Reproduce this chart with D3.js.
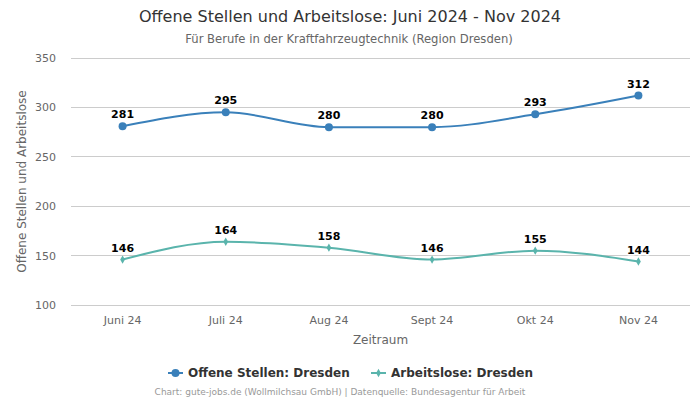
<!DOCTYPE html>
<html><head><meta charset="utf-8">
<script src="https://cdn.jsdelivr.net/npm/d3@7"></script>
<style>body{margin:0;background:#fff;font-family:"DejaVu Sans",sans-serif}</style>
</head><body><svg id="c" width="700" height="400"></svg>
<script>
const categories = ["Juni 24","Juli 24","Aug 24","Sept 24","Okt 24","Nov 24"];
const offeneStellen = [281,295,280,280,293,312];
const arbeitslose = [146,164,158,146,155,144];
const yTicks = [100,150,200,250,300,350];
const seriesNames = ["Offene Stellen: Dresden","Arbeitslose: Dresden"];
const colors = ["#3a80ba","#5ab4ac"];

const svg = d3.select("#c");
const m = {l:71, r:690, t:58, b:305};
const x = d3.scaleBand().domain(categories).range([m.l,m.r]);
const y = d3.scaleLinear().domain([100,350]).range([m.b,m.t]);

svg.append("text").attr("x",350).attr("y",22).attr("text-anchor","middle")
  .attr("font-size",16).attr("fill","#333").text("Offene Stellen und Arbeitslose: Juni 2024 - Nov 2024");
svg.append("text").attr("x",349).attr("y",43).attr("text-anchor","middle")
  .attr("font-size",11.6).attr("fill","#666").text("Für Berufe in der Kraftfahrzeugtechnik (Region Dresden)");

const grid = svg.append("g");
yTicks.forEach(t=>{
  grid.append("line").attr("x1",m.l).attr("x2",m.r).attr("y1",y(t)).attr("y2",y(t))
    .attr("stroke","#cccccc").attr("stroke-width",1).attr("shape-rendering","crispEdges");
  grid.append("text").attr("x",56).attr("y",y(t)+4).attr("text-anchor","end")
    .attr("font-size",11).attr("fill","#666").text(t);
});
categories.forEach(c=>{
  svg.append("text").attr("x",x(c)+x.bandwidth()/2).attr("y",324).attr("text-anchor","middle")
    .attr("font-size",11).attr("fill","#666").text(c);
});
svg.append("text").attr("x",(m.l+m.r)/2).attr("y",344).attr("text-anchor","middle")
  .attr("font-size",12).attr("fill","#666").text("Zeitraum");
svg.append("text").attr("transform",`translate(26,${(m.t+m.b)/2}) rotate(-90)`).attr("text-anchor","middle")
  .attr("font-size",12).attr("fill","#666").text("Offene Stellen und Arbeitslose");

const cx = c=>x(c)+x.bandwidth()/2;
const line = d3.line().x((d,i)=>cx(categories[i])).y(d=>y(d)).curve(d3.curveMonotoneX);

[offeneStellen, arbeitslose].forEach((s,k)=>{
  svg.append("path").attr("d",line(s)).attr("fill","none").attr("stroke",colors[k]).attr("stroke-width",2);
  s.forEach((v,i)=>{
    if(k===0) svg.append("circle").attr("cx",cx(categories[i])).attr("cy",y(v)).attr("r",4).attr("fill",colors[k]);
    else svg.append("path").attr("d",d3.symbol(d3.symbolDiamond,20)()).attr("transform",`translate(${cx(categories[i])},${y(v)})`).attr("fill",colors[k]);
    svg.append("text").attr("x",cx(categories[i])).attr("y",y(v)-8).attr("text-anchor","middle")
      .attr("font-size",11).attr("font-weight","bold").attr("fill","#000")
      .attr("stroke","#fff").attr("stroke-width",3).attr("paint-order","stroke").attr("stroke-linejoin","round").text(v);
  });
});

// legend
const lg = [{x:168,tx:188},{x:371,tx:391}];
seriesNames.forEach((n,k)=>{
  const g = svg.append("g");
  g.append("line").attr("x1",lg[k].x).attr("x2",lg[k].x+15).attr("y1",373).attr("y2",373).attr("stroke",colors[k]).attr("stroke-width",2);
  if(k===0) g.append("circle").attr("cx",lg[k].x+7.5).attr("cy",373).attr("r",4).attr("fill",colors[k]);
  else g.append("path").attr("d",d3.symbol(d3.symbolDiamond,20)()).attr("transform",`translate(${lg[k].x+7.5},373)`).attr("fill",colors[k]);
  g.append("text").attr("x",lg[k].tx).attr("y",377).attr("font-size",12).attr("font-weight","bold").attr("fill","#333").text(n);
});
svg.append("text").attr("x",340).attr("y",395).attr("text-anchor","middle")
  .attr("font-size",9).attr("fill","#999").text("Chart: gute-jobs.de (Wollmilchsau GmbH) | Datenquelle: Bundesagentur für Arbeit");
</script></body></html>
